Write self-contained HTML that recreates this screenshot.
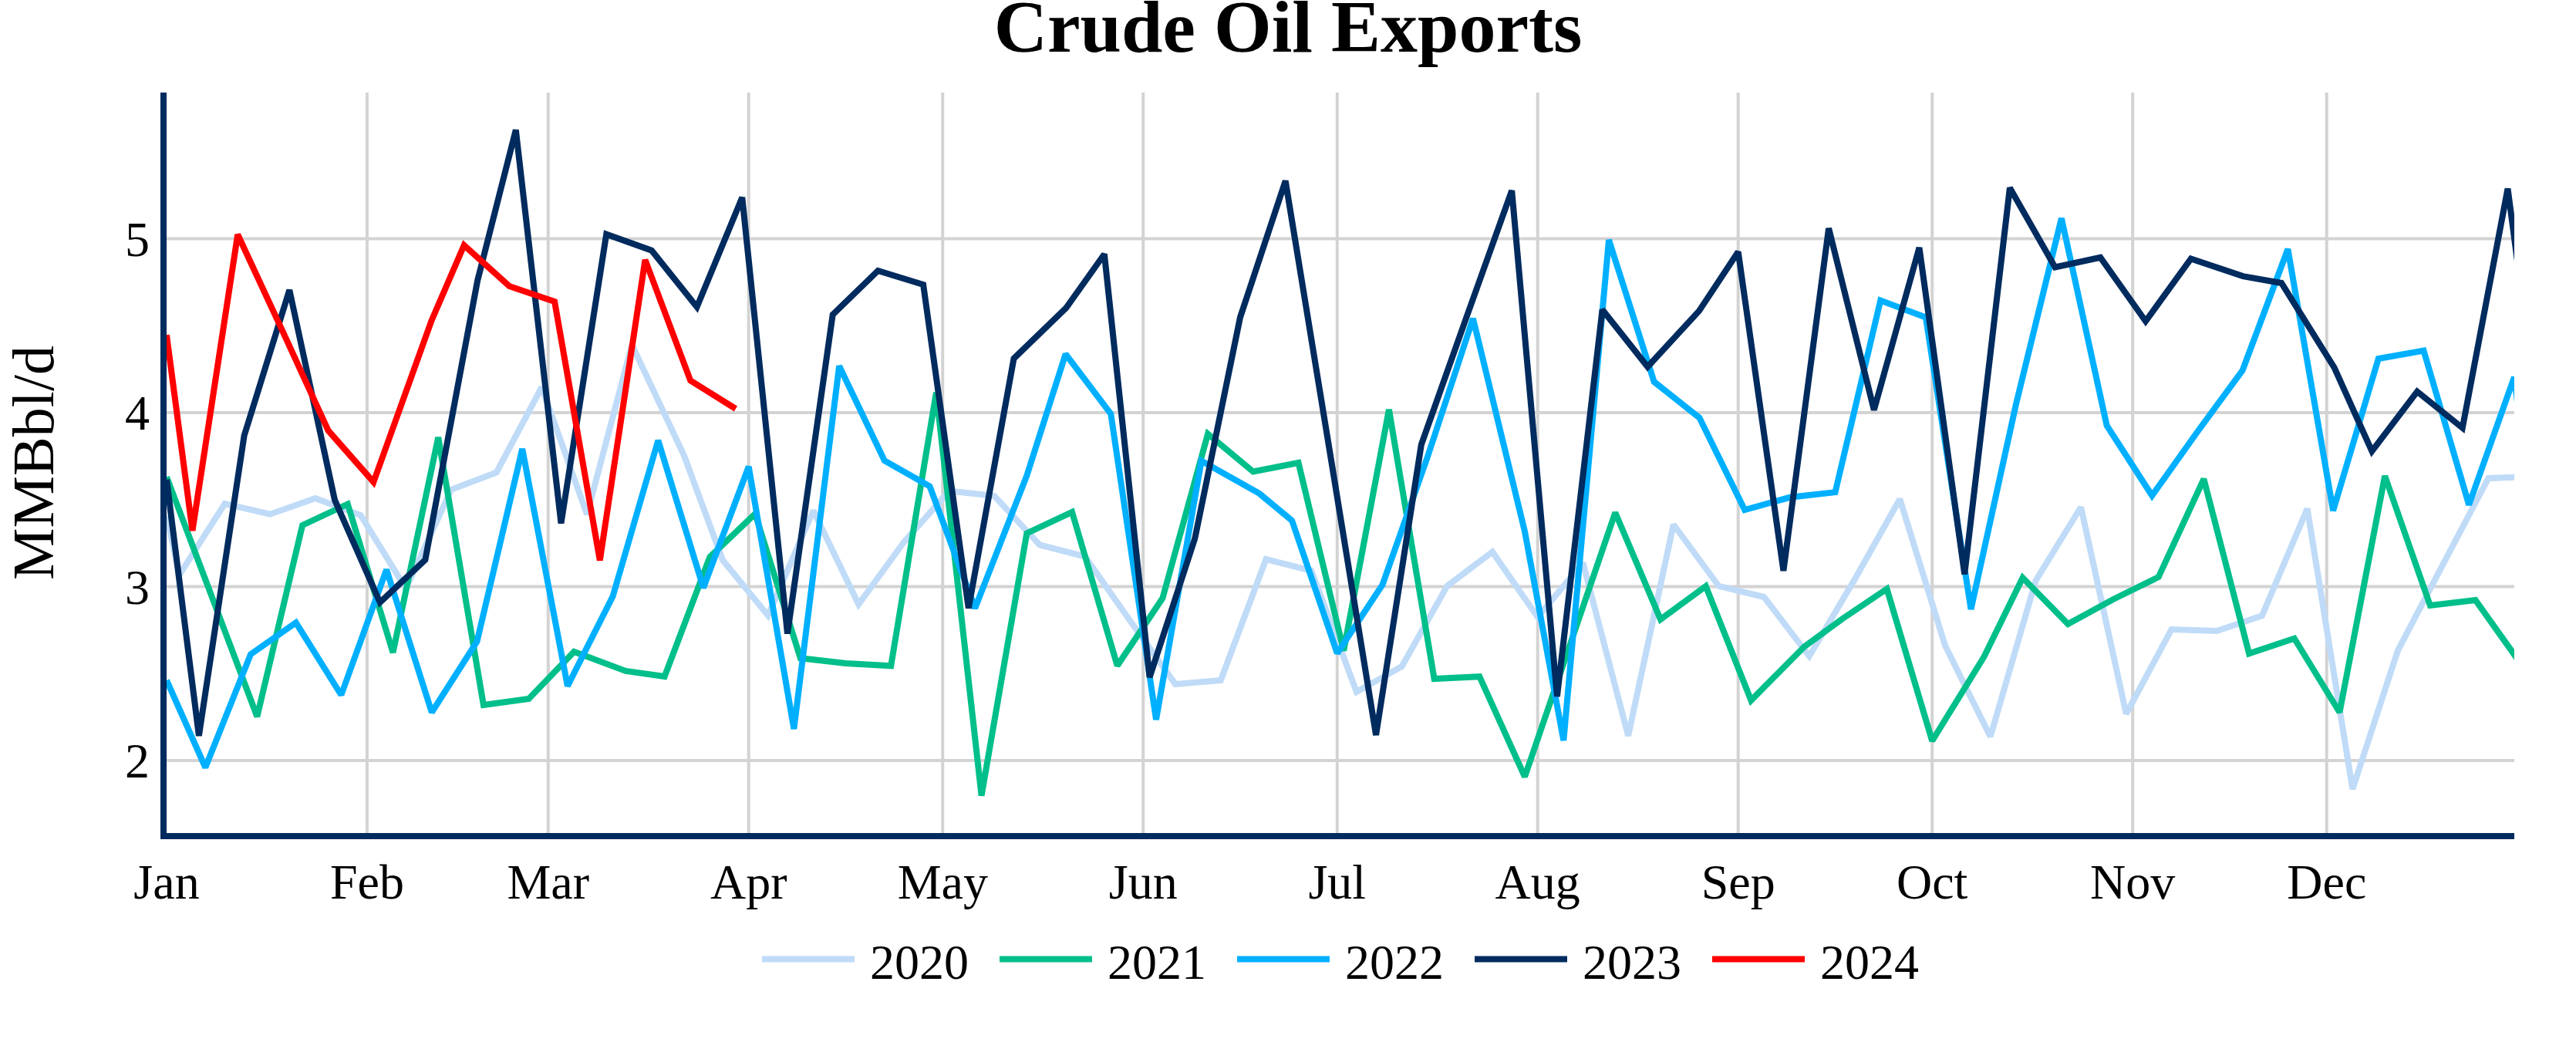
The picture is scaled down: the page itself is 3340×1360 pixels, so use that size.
<!DOCTYPE html>
<html lang="en"><head><meta charset="utf-8"><title>Crude Oil Exports</title>
<style>html,body{margin:0;padding:0;background:#fff}body{width:3340px;height:1360px;overflow:hidden}svg{display:block}text{font-family:"Liberation Serif","Times New Roman",Times,serif;fill:#000}</style></head><body>
<svg width="3340" height="1360" viewBox="0 0 3340 1360">
<rect width="3340" height="1360" fill="#fff"/>
<defs><clipPath id="plot"><rect x="216" y="120" width="3044" height="960"/></clipPath></defs>
<g stroke="#D3D3D3" stroke-width="4" fill="none">
<path d="M475.95,120V1080"/>
<path d="M710.74,120V1080"/>
<path d="M970.69,120V1080"/>
<path d="M1222.26,120V1080"/>
<path d="M1482.21,120V1080"/>
<path d="M1733.77,120V1080"/>
<path d="M1993.72,120V1080"/>
<path d="M2253.67,120V1080"/>
<path d="M2505.24,120V1080"/>
<path d="M2765.19,120V1080"/>
<path d="M3016.75,120V1080"/>
<path d="M216,986.00H3260"/>
<path d="M216,760.50H3260"/>
<path d="M216,535.00H3260"/>
<path d="M216,309.50H3260"/>
</g>
<g clip-path="url(#plot)" fill="none" stroke-width="8" stroke-miterlimit="2" stroke-linejoin="miter">
<path d="M216.0,669.0L232.8,744.8L291.5,653.0L350.2,666.7L408.9,646.0L467.6,668.0L526.3,763.0L585.0,634.8L643.7,612.5L702.4,502.0L761.1,667.0L819.3,447.0L886.7,590.1L937.2,726.4L995.8,798.0L1054.5,662.0L1113.2,783.5L1171.9,703.0L1230.6,636.5L1289.3,643.0L1348.0,706.5L1406.7,721.5L1465.4,805.0L1524.1,887.0L1582.8,882.0L1641.5,725.0L1700.2,739.8L1758.9,897.0L1817.6,864.0L1876.3,759.8L1935.0,715.5L1993.7,800.0L2052.4,729.8L2111.1,954.0L2169.8,680.0L2228.5,759.8L2287.2,774.0L2345.9,850.6L2404.6,751.4L2463.3,647.0L2522.0,837.0L2580.7,955.0L2639.4,753.0L2698.1,657.5L2756.8,925.5L2815.5,816.0L2874.2,818.0L2932.9,798.3L2991.6,659.5L3050.3,1023.0L3109.0,843.3L3167.7,731.4L3226.4,619.9L3285.1,618.0" stroke="#BFDBF7"/>
<path d="M216.0,618.3L274.7,773.6L333.4,929.0L392.1,681.0L450.8,653.5L509.5,846.0L568.2,567.0L626.9,913.9L685.6,906.0L744.3,845.0L811.2,869.9L861.7,877.0L920.4,722.0L979.1,666.0L1037.8,853.3L1096.5,860.0L1155.2,863.3L1213.9,509.0L1272.6,1031.5L1331.3,691.5L1390.0,663.8L1448.7,863.0L1507.4,775.5L1566.1,562.6L1624.8,611.5L1683.5,600.0L1742.2,843.5L1800.9,531.0L1859.6,880.0L1918.3,877.2L1977.0,1007.0L2035.6,836.0L2094.3,664.5L2153.0,803.0L2211.7,760.0L2270.4,908.0L2339.6,838.3L2387.8,803.0L2446.5,763.5L2505.2,960.5L2572.4,851.6L2622.6,749.0L2681.3,809.0L2740.0,777.0L2798.7,748.1L2857.4,621.0L2916.1,847.3L2974.8,827.7L3033.5,923.5L3092.2,617.0L3150.9,785.0L3209.6,778.0L3268.3,860.4L3327.0,995.0" stroke="#00BF8A"/>
<path d="M216.0,882.0L266.3,995.0L325.0,848.3L383.7,807.3L442.4,901.0L501.1,738.5L559.8,923.5L618.5,831.6L677.2,582.0L735.9,889.5L794.6,773.0L853.3,571.0L912.0,762.0L970.7,605.0L1029.4,945.0L1088.1,474.5L1146.8,597.2L1205.5,630.5L1264.2,788.5L1331.4,616.5L1381.6,459.0L1440.3,536.6L1499.0,933.0L1557.7,597.5L1632.9,639.8L1675.1,674.8L1733.8,847.0L1792.5,758.1L1851.2,591.5L1909.9,413.0L1976.9,688.6L2027.3,960.0L2086.0,311.0L2144.7,495.0L2203.4,541.6L2262.1,661.0L2320.8,644.8L2379.5,638.2L2438.2,389.5L2496.9,411.5L2555.5,790.0L2614.2,523.0L2672.9,283.0L2731.6,551.6L2790.3,642.5L2849.0,560.0L2907.7,480.0L2966.4,323.0L3025.1,662.0L3083.8,465.0L3142.5,454.5L3201.2,654.5L3259.9,489.0L3318.6,954.0" stroke="#00B0FF"/>
<path d="M216.0,621.7L257.9,954.0L316.6,564.9L375.3,376.0L434.0,648.2L492.7,781.0L551.4,725.8L619.1,363.9L668.8,168.5L727.5,678.5L786.2,303.7L844.9,324.7L903.6,398.0L962.3,256.0L1021.0,821.5L1079.7,408.0L1138.4,351.0L1197.1,369.0L1255.8,788.5L1314.5,464.8L1382.4,399.1L1431.9,329.5L1490.6,878.0L1549.3,698.1L1608.0,411.4L1666.7,234.5L1725.4,593.0L1784.1,953.0L1842.8,576.6L1901.5,411.0L1960.2,247.0L2018.9,903.0L2077.6,401.5L2136.3,475.5L2203.0,403.1L2253.7,326.5L2312.4,740.0L2371.1,296.0L2429.8,531.5L2488.5,321.0L2547.2,744.5L2605.9,243.5L2664.6,346.5L2723.3,333.8L2782.0,416.5L2840.7,335.5L2908.3,358.1L2958.1,367.0L3026.6,476.6L3075.4,585.0L3134.1,507.7L3192.8,554.8L3251.5,244.5L3310.2,686.5" stroke="#002B5E"/>
<path d="M216.0,434.3L249.5,688.0L308.2,304.0L366.9,430.4L425.6,558.2L484.3,625.0L559.4,416.0L601.7,318.0L660.4,371.0L719.1,391.0L777.8,726.5L836.5,336.8L895.2,493.3L953.9,530.0" stroke="#FF0000"/>
</g>
<path d="M208,1084H3260" stroke="#002B5E" stroke-width="8" fill="none"/>
<path d="M212,120V1088" stroke="#002B5E" stroke-width="8" fill="none"/>
<g font-size="64" text-anchor="middle">
<text x="216.0" y="1164.8">Jan</text>
<text x="475.9" y="1164.8">Feb</text>
<text x="710.7" y="1164.8">Mar</text>
<text x="970.7" y="1164.8">Apr</text>
<text x="1222.3" y="1164.8">May</text>
<text x="1482.2" y="1164.8">Jun</text>
<text x="1733.8" y="1164.8">Jul</text>
<text x="1993.7" y="1164.8">Aug</text>
<text x="2253.7" y="1164.8">Sep</text>
<text x="2505.2" y="1164.8">Oct</text>
<text x="2765.2" y="1164.8">Nov</text>
<text x="3016.8" y="1164.8">Dec</text>
</g>
<g font-size="64" text-anchor="end">
<text x="194" y="1008.0">2</text>
<text x="194" y="782.5">3</text>
<text x="194" y="557.0">4</text>
<text x="194" y="331.5">5</text>
</g>
<text font-size="76" text-anchor="middle" transform="translate(69,600) rotate(-90)">MMBbl/d</text>
<text x="1670" y="67" font-size="96" font-weight="bold" text-anchor="middle">Crude Oil Exports</text>
<g font-size="64">
<path d="M988,1243.5h120" stroke="#BFDBF7" stroke-width="8" fill="none"/>
<text x="1128" y="1269">2020</text>
<path d="M1296,1243.5h120" stroke="#00BF8A" stroke-width="8" fill="none"/>
<text x="1436" y="1269">2021</text>
<path d="M1604,1243.5h120" stroke="#00B0FF" stroke-width="8" fill="none"/>
<text x="1744" y="1269">2022</text>
<path d="M1912,1243.5h120" stroke="#002B5E" stroke-width="8" fill="none"/>
<text x="2052" y="1269">2023</text>
<path d="M2220,1243.5h120" stroke="#FF0000" stroke-width="8" fill="none"/>
<text x="2360" y="1269">2024</text>
</g>
</svg></body></html>
